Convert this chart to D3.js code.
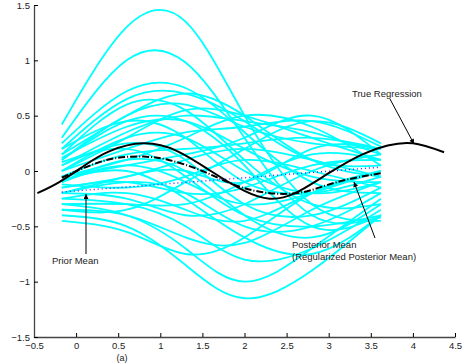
<!DOCTYPE html>
<html lang="en">
<head>
<meta charset="utf-8">
<title>Regression samples</title>
<script src="https://cdn.jsdelivr.net/npm/d3@7"></script>
<style>
  body { margin: 0; background: #fff; }
  text { font-family: "Liberation Sans", Arial, sans-serif; }
</style>
</head>
<body>
<div id="chart"></div>
<script>
// sample curves, evaluated at sampleX
var sampleX = [-0.17, 0.6, 1.3, 2.0, 2.8, 3.62];
var samples = [
  [0.42, 1.3, 1.35, 0.5, -0.3, -0.45],
  [0.3, 1.0, 0.98, 0.3, -0.4, -0.42],
  [0.25, 0.72, 0.75, 0.35, -0.1, -0.2],
  [0.2, 0.65, 0.7, 0.45, 0.1, 0.05],
  [0.15, 0.6, 0.55, 0.1, -0.3, -0.3],
  [0.1, 0.5, 0.6, 0.4, 0.25, 0.2],
  [0.1, 0.45, 0.45, 0.05, -0.5, -0.4],
  [0.05, 0.35, 0.5, 0.45, 0.35, 0.15],
  [0.0, 0.3, 0.3, 0.0, -0.2, -0.1],
  [0.0, 0.2, 0.35, 0.4, 0.45, 0.22],
  [-0.05, 0.15, 0.2, 0.25, 0.3, 0.2],
  [-0.05, 0.05, 0.15, 0.3, 0.5, 0.15],
  [-0.1, 0.05, -0.1, -0.3, -0.2, 0.0],
  [-0.1, 0.1, 0.0, -0.4, -0.6, -0.3],
  [-0.15, -0.05, 0.1, 0.2, 0.1, -0.05],
  [-0.15, -0.1, -0.2, -0.15, 0.05, 0.1],
  [-0.2, -0.1, -0.2, -0.5, -0.5, -0.2],
  [-0.2, -0.05, 0.0, -0.1, 0.2, 0.2],
  [-0.25, -0.2, -0.35, -0.45, -0.2, 0.0],
  [-0.25, -0.3, -0.5, -0.8, -0.7, -0.35],
  [-0.3, -0.3, -0.3, -0.1, 0.15, 0.1],
  [-0.3, -0.4, -0.7, -1.0, -0.7, -0.25],
  [-0.35, -0.4, -0.6, -0.65, -0.35, -0.1],
  [-0.4, -0.5, -0.85, -1.15, -0.9, -0.4],
  [-0.45, -0.55, -0.75, -0.6, -0.2, 0.0],
  [0.05, 0.25, 0.1, -0.3, -0.4, -0.15],
  [0.15, 0.5, 0.7, 0.5, 0.1, -0.05],
  [0.0, 0.3, 0.55, 0.5, 0.3, 0.1],
  [-0.05, 0.1, 0.3, 0.5, 0.4, 0.05],
  [-0.12, -0.15, -0.05, 0.1, 0.0, -0.15],
  [0.08, 0.2, -0.05, -0.4, -0.5, -0.4],
  [-0.2, -0.25, -0.4, -0.3, 0.0, 0.15],
  [0.2, 0.45, 0.3, -0.1, -0.2, -0.05],
  [-0.08, 0.0, -0.25, -0.6, -0.75, -0.4],
  [0.12, 0.4, 0.45, 0.2, -0.05, -0.1],
  [-0.35, -0.35, -0.1, 0.2, 0.45, 0.25]
];

// true regression
var trueX = [-0.46, -0.2, 0.1, 0.4, 0.8, 1.2, 1.6, 2.0, 2.3, 2.6, 3.0, 3.4, 3.7, 4.0, 4.37];
var trueY = [-0.2, -0.1, 0.05, 0.18, 0.25, 0.18, 0.0, -0.18, -0.25, -0.2, -0.02, 0.15, 0.23, 0.25, 0.17];

// posterior mean
var postX = [-0.17, 0.2, 0.5, 0.8, 1.1, 1.5, 1.9, 2.3, 2.7, 3.1, 3.62];
var postY = [-0.06, 0.06, 0.12, 0.13, 0.1, 0.0, -0.13, -0.2, -0.19, -0.1, -0.02];

// prior mean
var priorX = [-0.17, 3.62];
var priorY = [-0.19, 0.035];

var xTicks = [-0.5, 0, 0.5, 1, 1.5, 2, 2.5, 3, 3.5, 4, 4.5];
var yTicks = [-1.5, -1, -0.5, 0, 0.5, 1, 1.5];

var w = 464, h = 363;
var svg = d3.select("#chart").append("svg")
  .attr("width", w).attr("height", h);

var x = d3.scaleLinear().domain([-0.5, 4.5]).range([34, 455]);
var y = d3.scaleLinear().domain([-1.5, 1.5]).range([337, 5]);

var fmt = function(d) { return String(d).replace("-", "\u2212"); };

var defs = svg.append("defs");
defs.append("marker")
  .attr("id", "arrow")
  .attr("viewBox", "0 0 10 10")
  .attr("refX", 10).attr("refY", 5)
  .attr("markerWidth", 8).attr("markerHeight", 5)
  .attr("markerUnits", "userSpaceOnUse")
  .attr("orient", "auto")
  .append("path")
  .attr("d", "M0,0L10,5L0,10z")
  .attr("fill", "#000");

var line = d3.line()
  .x(function(d) { return x(d[0]); })
  .y(function(d) { return y(d[1]); })
  .curve(d3.curveNatural);

// cyan samples
svg.append("g").selectAll("path")
  .data(samples)
  .enter().append("path")
  .attr("d", function(s) {
    return line(s.map(function(v, i) { return [sampleX[i], v]; }));
  })
  .attr("fill", "none")
  .attr("stroke", "#00ffff")
  .attr("stroke-width", 1.8);

// prior mean
svg.append("path")
  .attr("d", d3.line().x(function(d) { return x(d[0]); }).y(function(d) { return y(d[1]); })
    (priorX.map(function(v, i) { return [v, priorY[i]]; })))
  .attr("fill", "none")
  .attr("stroke", "#2a2aff")
  .attr("stroke-width", 1.4)
  .attr("stroke-dasharray", "1,3");

// posterior mean
svg.append("path")
  .attr("d", line(postX.map(function(v, i) { return [v, postY[i]]; })))
  .attr("fill", "none")
  .attr("stroke", "#000")
  .attr("stroke-width", 2)
  .attr("stroke-dasharray", "7,2,1,2");

// true regression
svg.append("path")
  .attr("d", line(trueX.map(function(v, i) { return [v, trueY[i]]; })))
  .attr("fill", "none")
  .attr("stroke", "#000")
  .attr("stroke-width", 2);

// axes
var xAxis = svg.append("g")
  .attr("transform", "translate(0," + y(-1.5) + ")")
  .call(d3.axisBottom(x).tickValues(xTicks).tickFormat(fmt)
    .tickSizeInner(-4).tickSizeOuter(0).tickPadding(5));
var yAxis = svg.append("g")
  .attr("transform", "translate(" + x(-0.5) + ",0)")
  .call(d3.axisLeft(y).tickValues(yTicks).tickFormat(fmt)
    .tickSizeInner(-4).tickSizeOuter(0).tickPadding(4));

[xAxis, yAxis].forEach(function(a) {
  a.select(".domain").attr("stroke", "#444").attr("stroke-width", 1.3);
  a.selectAll(".tick line").attr("stroke", "#000");
  a.selectAll("text").attr("font-size", 9.5).attr("fill", "#222")
    .attr("font-family", "'Liberation Sans', Arial, sans-serif");
});

// annotations
function note(txt, tx, ty) {
  svg.append("text").attr("x", tx).attr("y", ty)
    .attr("font-size", 9.5).attr("fill", "#222").text(txt);
}
function arrow(x1, y1, x2, y2) {
  svg.append("line")
    .attr("x1", x1).attr("y1", y1).attr("x2", x2).attr("y2", y2)
    .attr("stroke", "#000").attr("stroke-width", 1)
    .attr("marker-end", "url(#arrow)");
}

note("True Regression", 352, 97);
arrow(390, 99, 414, 144);

note("Prior Mean", 52, 264);
arrow(86, 254, 86, 194);

note("Posterior Mean", 292, 248);
note("(Regularized Posterior Mean)", 292, 260);
arrow(375, 238, 354, 182);

// caption below the axis
svg.append("text").attr("x", 122).attr("y", 361)
  .attr("text-anchor", "middle").attr("font-size", 9).attr("fill", "#222")
  .text("(a)");
</script>
</body>
</html>
